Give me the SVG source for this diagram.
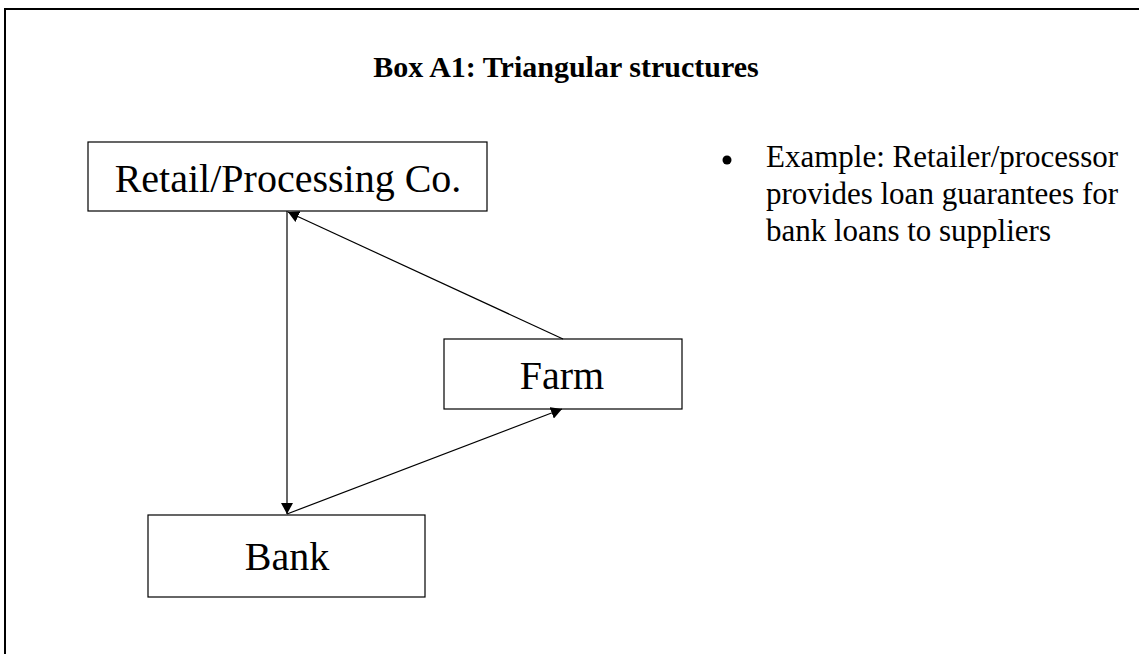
<svg xmlns="http://www.w3.org/2000/svg" width="1139" height="654" viewBox="0 0 1139 654">
<style>
.frame{fill:none;stroke:#000;stroke-width:2}
.box{fill:#fff;stroke:#000;stroke-width:1.2}
.lbl{font-family:"Liberation Serif","Times New Roman",serif;font-size:40px;fill:#000;text-anchor:middle}
.title{font-family:"Liberation Serif","Times New Roman",serif;font-size:30px;font-weight:bold;fill:#000;text-anchor:middle}
.body{font-family:"Liberation Serif","Times New Roman",serif;font-size:31px;fill:#000}
.conn{fill:none;stroke:#000;stroke-width:1.2}
</style>
<defs>
<marker id="arr" viewBox="0 0 11 12" refX="11" refY="6" markerWidth="11" markerHeight="12" markerUnits="userSpaceOnUse" orient="auto">
<path d="M0,0 L11,6 L0,12 Z" fill="#000"/>
</marker>
</defs>
<rect width="1139" height="654" fill="#fff"/>
<path class="frame" d="M5,660 L5,9 L1145,9"/>
<text class="title" x="566" y="77">Box A1: Triangular structures</text>
<g id="retail">
<rect class="box" x="88" y="142" width="399" height="69"/>
<text class="lbl" x="288" y="192">Retail/Processing Co.</text>
</g>
<g id="farm">
<rect class="box" x="444" y="339" width="238" height="70"/>
<text class="lbl" x="562" y="389">Farm</text>
</g>
<g id="bank">
<rect class="box" x="148" y="515" width="277" height="82"/>
<text class="lbl" x="287" y="570">Bank</text>
</g>
<g id="connectors">
<line class="conn" x1="287" y1="211" x2="287" y2="514" marker-end="url(#arr)"/>
<line class="conn" x1="563" y1="339" x2="288" y2="212" marker-end="url(#arr)"/>
<line class="conn" x1="287" y1="514" x2="562" y2="409" marker-end="url(#arr)"/>
</g>
<g id="note">
<circle cx="727" cy="160" r="4.5" fill="#000"/>
<text class="body" x="766" y="167">Example: Retailer/processor</text>
<text class="body" x="766" y="204">provides loan guarantees for</text>
<text class="body" x="766" y="241">bank loans to suppliers</text>
</g>
</svg>
